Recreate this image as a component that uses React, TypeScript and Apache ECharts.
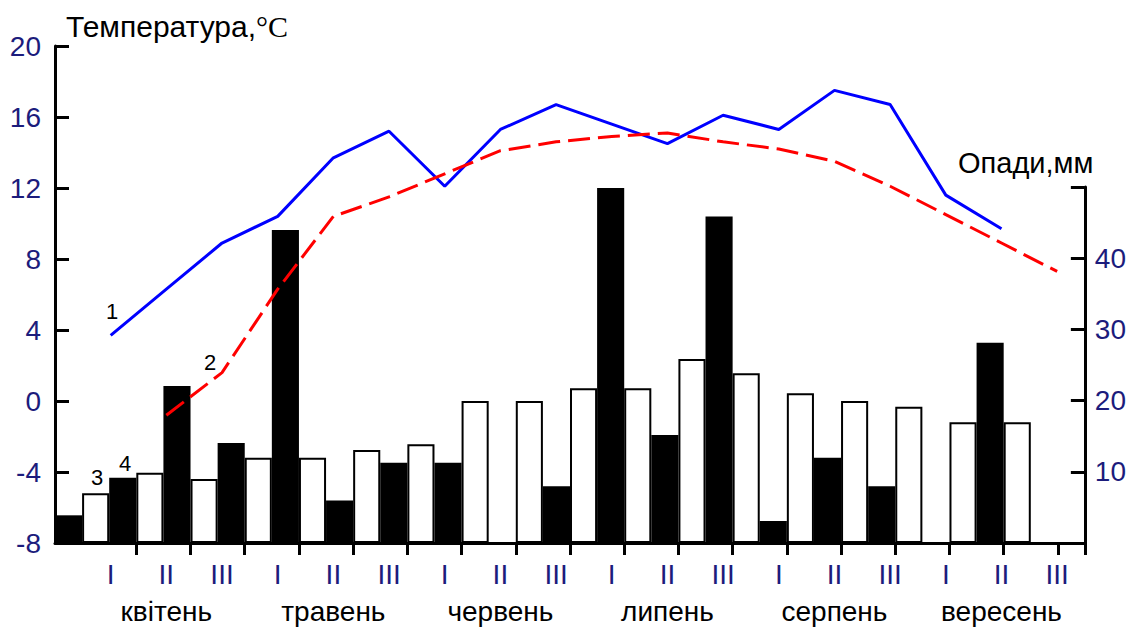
import React, { useEffect, useRef } from "react";
import * as echarts from "echarts";

// ---- data ----
const romanDecades = ["I", "II", "III"];
const months = ["квітень", "травень", "червень", "липень", "серпень", "вересень"];
// temperature, °C (left axis), one value per decade (April I .. September III)
const tempLine1 = [3.7, 6.3, 8.9, 10.4, 13.7, 15.2, 12.1, 15.3, 16.7, 15.6, 14.5, 16.1, 15.3, 17.5, 16.7, 11.6, 9.7];
const tempLine2 = [null, -0.8, 1.6, 6.3, 10.4, 11.5, 12.8, 14.1, 14.6, 14.9, 15.1, 14.6, 14.2, 13.5, 12.1, 10.5, 8.9, 7.3];
// precipitation, mm (right axis)
const precipLeadBlack = 3.9; // last decade before April
const precipWhite = [7.0, 9.9, 9.0, 12.0, 12.0, 13.1, 13.9, 20, 20, 21.8, 21.8, 25.9, 23.9, 21.1, 20, 19.2, 17.0, 17.0];
const precipBlack = [9.2, 22.1, 14.1, 44.1, 6.0, 11.3, 11.3, 0, 8.0, 50.0, 15.2, 46.0, 3.1, 12.0, 8.0, 0, 28.2, 0];
const tempTicks = { min: -8, max: 20, step: 4 };
const precipTicks = { min: 0, max: 50, step: 10, fullMax: 70 };

const FONT = "'Liberation Sans', Arial, sans-serif";
const NAVY = "#1c1c7c";

export default function App() {
  const ref = useRef<HTMLDivElement>(null);
  useEffect(() => {
    if (!ref.current) return;
    const chart = echarts.init(ref.current, null, { renderer: "svg" });

    const nSlots = 1 + precipWhite.length * 2 + 1;
    const slots = Array.from({ length: nSlots }, (_, i) => String(i));
    const whiteData: (number | null)[] = slots.map(() => null);
    const blackData: (number | null)[] = slots.map(() => null);
    blackData[0] = precipLeadBlack;
    precipWhite.forEach((v, k) => (whiteData[2 * k + 1] = v));
    precipBlack.forEach((v, k) => (blackData[2 * k + 2] = v));

    const line1 = tempLine1.map((v, k) => [k, v]);
    const line2 = tempLine2.map((v, k) => [k, v]).filter((p) => p[1] !== null);

    const option: any = {
      animation: false,
      backgroundColor: "#fff",
      grid: [
        { left: 55, right: 44, top: 46, bottom: 89 },
        { left: 55, right: 44, top: 187, bottom: 89 },
      ],
      xAxis: [
        {
          type: "category",
          gridIndex: 0,
          position: "bottom",
          data: slots,
          boundaryGap: true,
          axisLine: { show: true, onZero: false, lineStyle: { color: "#000", width: 3 } },
          axisTick: {
            show: true,
            interval: (i: number) => i >= 3 && i % 2 === 1,
            length: 12,
            lineStyle: { color: "#000", width: 3 },
          },
          axisLabel: { show: false },
          splitLine: { show: false },
        },
        {
          type: "value",
          gridIndex: 0,
          position: "bottom",
          min: -1,
          max: 17.5,
          interval: 1,
          axisLine: { show: false, onZero: false },
          axisTick: { show: false },
          splitLine: { show: false },
          axisLabel: {
            margin: 16,
            showMaxLabel: false,
            formatter: (v: number) => {
              const k = Math.round(v);
              if (v < 0 || v > 17 || Math.abs(v - k) > 1e-6) return "";
              const r = romanDecades[k % 3];
              if (k % 3 === 1) return `{r|${r}}\n{m|${months[Math.floor(k / 3)]}}`;
              return `{r|${r}}`;
            },
            rich: {
              r: { color: NAVY, fontSize: 28, lineHeight: 30, fontFamily: FONT },
              m: { color: "#000", fontSize: 28, lineHeight: 44, fontFamily: FONT },
            },
          },
        },
        { type: "value", gridIndex: 1, min: 0, max: 1, show: false, axisLine: { onZero: false } },
      ],
      yAxis: [
        {
          type: "value",
          gridIndex: 0,
          position: "left",
          min: tempTicks.min,
          max: tempTicks.max,
          interval: tempTicks.step,
          axisLine: { show: true, onZero: false, lineStyle: { color: "#000", width: 3 } },
          axisTick: { show: true, inside: true, length: 14, lineStyle: { color: "#000", width: 3 } },
          axisLabel: { color: NAVY, fontSize: 28, margin: 14, fontFamily: FONT },
          splitLine: { show: false },
        },
        {
          type: "value",
          gridIndex: 0,
          min: precipTicks.min,
          max: precipTicks.fullMax,
          show: false,
          axisLine: { onZero: false },
        },
        {
          type: "value",
          gridIndex: 1,
          position: "right",
          min: precipTicks.min,
          max: precipTicks.max,
          interval: precipTicks.step,
          axisLine: { show: true, onZero: false, lineStyle: { color: "#000", width: 3 } },
          axisTick: { show: true, inside: true, length: 14, lineStyle: { color: "#000", width: 3 } },
          axisLabel: {
            color: NAVY,
            fontSize: 28,
            margin: 10,
            fontFamily: FONT,
            formatter: (v: number) => (v > precipTicks.min && v < precipTicks.max ? String(v) : ""),
          },
          splitLine: { show: false },
        },
      ],
      series: [
        {
          name: "3",
          type: "bar",
          xAxisIndex: 0,
          yAxisIndex: 1,
          data: whiteData,
          barCategoryGap: 0,
          barGap: "-100%",
          itemStyle: { color: "#fff", borderColor: "#000", borderWidth: 2 },
          z: 2,
        },
        {
          name: "4",
          type: "bar",
          xAxisIndex: 0,
          yAxisIndex: 1,
          data: blackData,
          barCategoryGap: 0,
          barGap: "-100%",
          itemStyle: { color: "#000" },
          z: 3,
        },
        {
          name: "1",
          type: "line",
          xAxisIndex: 1,
          yAxisIndex: 0,
          data: line1,
          showSymbol: false,
          lineStyle: { color: "#0000ff", width: 3 },
          z: 5,
        },
        {
          name: "2",
          type: "line",
          xAxisIndex: 1,
          yAxisIndex: 0,
          data: line2,
          showSymbol: false,
          lineStyle: { color: "#ff0000", width: 3, type: [22, 8] },
          z: 6,
        },
      ],
      graphic: [
        {
          type: "text",
          x: 66,
          y: 11,
          style: {
            text: "{a|Температура,}{b|°C}",
            rich: {
              a: { fontSize: 30, fontFamily: FONT, fill: "#000" },
              b: { fontSize: 30, fontFamily: "'Liberation Serif', 'Times New Roman', serif", fill: "#000" },
            },
          },
        },
        {
          type: "text",
          x: 958,
          y: 148,
          style: { text: "Опади,мм", fontSize: 29, fontFamily: FONT, fill: "#000" },
        },
        { type: "text", x: 112, y: 311, style: { text: "1", fontSize: 22, fontFamily: FONT, fill: "#000", align: "center", verticalAlign: "middle" } },
        { type: "text", x: 210, y: 362, style: { text: "2", fontSize: 22, fontFamily: FONT, fill: "#000", align: "center", verticalAlign: "middle" } },
        { type: "text", x: 97, y: 477, style: { text: "3", fontSize: 22, fontFamily: FONT, fill: "#000", align: "center", verticalAlign: "middle" } },
        { type: "text", x: 125, y: 463, style: { text: "4", fontSize: 22, fontFamily: FONT, fill: "#000", align: "center", verticalAlign: "middle" } },
      ],
    };
    chart.setOption(option);
    return () => chart.dispose();
  }, []);
  return <div ref={ref} style={{ position: "absolute", left: 0, top: 0, width: 1129, height: 632 }} />;
}
